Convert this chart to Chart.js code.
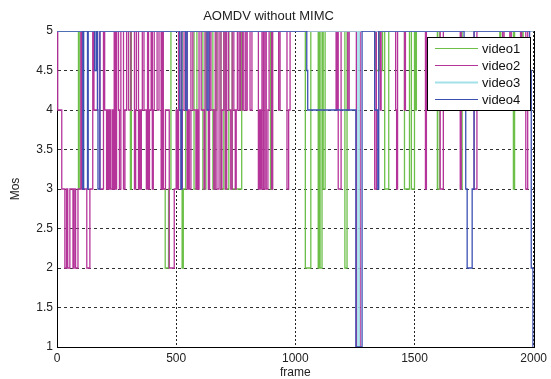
<!DOCTYPE html>
<html>
<head>
	<meta charset="UTF-8">
	<title>AOMDV without MIMC</title>
	<script src="https://cdn.jsdelivr.net/npm/chart.js@4.4.0/dist/chart.umd.min.js"></script>
	<style>
		html, body { margin: 0; padding: 0; background: #fff; }
		#wrap { width: 551px; height: 379px; }
	</style>
</head>
<body>
	<div id="wrap"><canvas id="mosChart"></canvas></div>
	<script>
	// change points: each Mos value holds until the next frame in the list
	const video1Frames = [0, 90, 96, 308, 312, 445, 454, 468, 478, 525, 530, 540, 575, 587, 612, 625, 654, 660, 671, 688, 700, 708, 721, 735, 775, 896, 904, 1042, 1065, 1096, 1100, 1104, 1112, 1117, 1125, 1208, 1217, 1335, 1350, 1355, 1366, 1375, 1392, 1458, 1479, 1487, 1500, 1504, 1508, 1596, 1604, 1694, 1700, 1858, 1862, 1915, 1920, 1950, 1956, 2000];
	const video1Mos = [5, 3, 5, 3, 5, 3, 2, 3, 5, 2, 3, 5, 3, 5, 3, 5, 3, 4, 5, 3, 5, 3, 5, 3, 5, 3, 5, 2, 5, 2, 5, 2, 5, 3, 5, 2, 5, 4.5, 5, 4.5, 5, 3, 5, 3, 5, 3, 5, 4, 5, 3, 5, 3, 5, 4.5, 5, 3, 5, 4.5, 5, 5];

	const video2Frames = [0, 3, 20, 33, 40, 45, 54, 67, 72, 78, 88, 100, 104, 125, 138, 150, 155, 170, 180, 195, 200, 208, 212, 216, 220, 225, 232, 236, 240, 245, 250, 258, 262, 268, 279, 285, 292, 300, 310, 325, 330, 333, 342, 346, 350, 354, 358, 365, 375, 380, 384, 388, 395, 400, 404, 408, 420, 428, 437, 441, 446, 455, 471, 492, 500, 505, 510, 521, 526, 533, 546, 550, 555, 562, 570, 583, 588, 592, 596, 605, 617, 621, 629, 635, 640, 646, 658, 664, 671, 680, 688, 692, 700, 706, 712, 720, 729, 735, 742, 748, 752, 757, 764, 770, 778, 784, 792, 798, 810, 818, 845, 850, 855, 860, 866, 872, 878, 885, 890, 900, 905, 930, 936, 965, 972, 978, 1171, 1175, 1180, 1192, 1220, 1226, 1256, 1272, 1333, 1340, 1356, 1360, 1421, 1425, 1429, 1458, 1462, 1546, 1550, 1608, 1621, 1692, 1696, 1750, 1762, 1870, 1876, 1900, 1906, 1945, 1950, 1967, 1975, 2000];
	const video2Mos = [5, 4, 3, 2, 3, 2, 3, 2, 3, 2, 3, 5, 3, 2, 3, 5, 4, 5, 3, 5, 4, 3, 4, 3, 4, 3, 4, 3, 5, 3, 5, 4, 3, 5, 3, 4, 5, 4, 5, 3, 4, 5, 3, 4, 3, 4, 5, 4, 3, 5, 3, 4, 5, 3, 4, 5, 4, 5, 3, 5, 3, 4, 2, 3, 4, 3, 5, 3, 4, 5, 3, 4, 3, 5, 4, 3, 4, 3, 5, 4, 3, 5, 4, 3, 5, 4, 3, 5, 3, 5, 3, 4, 5, 3, 5, 4, 3, 5, 4, 3, 4, 5, 4, 5, 4, 5, 4, 5, 4, 5, 3, 4, 3, 5, 3, 5, 3, 4, 5, 3, 5, 4, 5, 3, 4, 5, 4, 5, 3, 5, 4, 5, 1, 5, 3, 5, 4, 5, 4, 3, 5, 4, 5, 3, 5, 3, 5, 3, 5, 3, 5, 4.5, 5, 4, 5, 4.5, 5, 3, 5, 5];

	const video3Frames = [0, 1262, 1268, 2000];
	const video3Mos = [5, 1, 5, 5];

	const video4Frames = [0, 108, 112, 128, 131, 158, 165, 170, 172, 180, 515, 520, 524, 540, 546, 630, 637, 1048, 1052, 1254, 1280, 1333, 1346, 1350, 1708, 1715, 1721, 1742, 1750, 1983, 1990, 1997, 2000];
	const video4Mos = [5, 3, 5, 3, 5, 4.5, 5, 4, 3, 5, 4, 3, 5, 4, 5, 4, 5, 4.5, 4, 1, 5, 4, 3, 5, 4, 3, 2, 3, 5, 4.5, 2, 1, 1];

	const seriesNames = ["video1", "video2", "video3", "video4"];
	const seriesColors = ["#6cc04a", "#b5349a", "#a3e1ea", "#3b50b2"];

	function points(frames, mos){
		let out = [];
		for(let i = 0; i < frames.length; i++){
			out.push({x: frames[i], y: mos[i]});
		}
		return out;
	}

	const allFrames = [video1Frames, video2Frames, video3Frames, video4Frames];
	const allMos = [video1Mos, video2Mos, video3Mos, video4Mos];

	let datasets = [];
	for(let i = 0; i < seriesNames.length; i++){
		datasets.push({
			label: seriesNames[i],
			data: points(allFrames[i], allMos[i]),
			borderColor: seriesColors[i],
			backgroundColor: seriesColors[i],
			borderWidth: 1.3,
			stepped: true,
			pointRadius: 0,
			fill: false,
			order: seriesNames.length - 1 - i // later videos drawn on top, like matlab
		});
	}

	const fontFamily = "'Liberation Sans', Arial, sans-serif";

	// box round the plot (under the lines) + matlab-like legend in the top right corner
	const boxAndLegend = {
		id: "boxAndLegend",
		beforeDatasetsDraw(chart){
			const ctx = chart.ctx;
			const a = chart.chartArea;
			ctx.save();
			ctx.strokeStyle = "#000";
			ctx.lineWidth = 1;
			ctx.setLineDash([]);
			ctx.strokeRect(Math.round(a.left) + 0.5, Math.round(a.top) + 0.5, Math.round(a.right - a.left), Math.round(a.bottom - a.top));
			ctx.restore();
		},
		afterDraw(chart){
			const ctx = chart.ctx;
			ctx.save();
			const lx = 427, ly = 37, lw = 103, lh = 73;
			ctx.fillStyle = "#fff";
			ctx.fillRect(lx, ly, lw, lh);
			ctx.strokeStyle = "#000";
			ctx.lineWidth = 1;
			ctx.strokeRect(lx + 0.5, ly + 0.5, lw, lh);
			ctx.font = "13px " + fontFamily;
			ctx.textBaseline = "middle";
			chart.data.datasets.forEach(function(ds, i){
				const y = ly + 11 + i * 17;
				ctx.strokeStyle = ds.borderColor;
				ctx.lineWidth = (i == 2) ? 2 : 1;
				ctx.beginPath();
				ctx.moveTo(lx + 8, Math.round(y) + 0.5);
				ctx.lineTo(lx + 51, Math.round(y) + 0.5);
				ctx.stroke();
				ctx.fillStyle = "#111";
				ctx.fillText(ds.label, lx + 55, y + 1);
			});
			ctx.restore();
		}
	};

	Chart.defaults.font.family = fontFamily;
	Chart.defaults.color = "#222";

	new Chart(document.getElementById("mosChart"), {
		type: "line",
		data: { datasets: datasets },
		options: {
			responsive: true,
			maintainAspectRatio: false,
			animation: false,
			layout: { padding: { left: 0, right: 14, top: 0, bottom: 0 } },
			plugins: {
				legend: { display: false },
				tooltip: { enabled: false },
				title: {
					display: true,
					text: "AOMDV without MIMC",
					color: "#222",
					font: { size: 13, weight: "normal" },
					padding: { top: 9, bottom: 6.4 }
				}
			},
			scales: {
				x: {
					type: "linear",
					min: 0,
					max: 2000,
					ticks: { stepSize: 500, padding: 4, font: { size: 12 }, maxRotation: 0,
						callback: function(v){ return String(v); } },
					grid: { color: "#222", drawTicks: false },
					border: { display: true, color: "#000", dash: [2, 2] },
					title: { display: true, text: "frame", font: { size: 12 }, padding: { top: 0, bottom: -1 } },
					afterFit: function(s){ s.height = 32; }
				},
				y: {
					min: 1,
					max: 5,
					ticks: { stepSize: 0.5, padding: 4, font: { size: 12 },
						callback: function(v){ return String(v); } },
					grid: { color: "#333", drawTicks: false },
					border: { display: true, color: "#000", dash: [3, 3] },
					title: { display: true, text: "Mos", font: { size: 12 }, padding: { top: 8, bottom: 0 } },
					afterFit: function(s){ s.width = 57; }
				}
			}
		},
		plugins: [boxAndLegend]
	});
	</script>
</body>
</html>
